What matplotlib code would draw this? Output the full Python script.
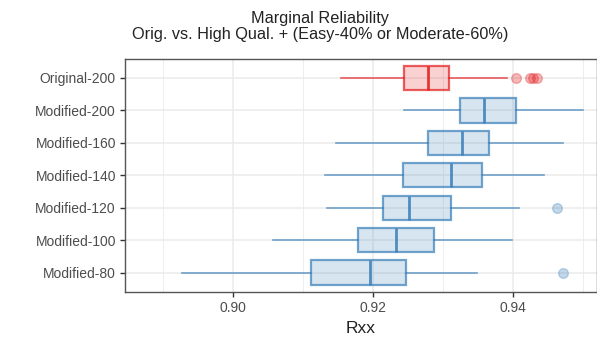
import matplotlib
matplotlib.use("Agg")
import matplotlib.pyplot as plt

plt.rcParams['font.family'] = ['Liberation Sans', 'DejaVu Sans']

labels = ['Modified-80', 'Modified-100', 'Modified-120', 'Modified-140',
          'Modified-160', 'Modified-200', 'Original-200']
whislo = [0.8927, 0.9058, 0.9135, 0.9131, 0.9147, 0.9245, 0.9155]
q1 = [0.9111, 0.9179, 0.9214, 0.9243, 0.9278, 0.9324, 0.9245]
med = [0.9196, 0.9233, 0.9251, 0.9311, 0.9327, 0.9358, 0.9278]
q3 = [0.9247, 0.9287, 0.9312, 0.9356, 0.9366, 0.9405, 0.9308]
whishi = [0.9348, 0.9399, 0.9409, 0.9445, 0.9472, 0.9500, 0.9391]
fliers = [[0.9471], [], [0.9463], [], [], [], [0.9405, 0.9425, 0.9429, 0.9435]]
groups = ['mod'] * 6 + ['orig']

colors = {'mod': '#377EB8', 'orig': '#E41A1C'}

fig = plt.figure(figsize=(5.97, 3.40), dpi=100)
ax = fig.add_axes([125 / 597, 1 - 292 / 340, 1 - 125 / 597, (292 - 58.5) / 340])

for i in range(len(labels)):
    c = colors[groups[i]]
    st = [dict(whislo=whislo[i], q1=q1[i], med=med[i], q3=q3[i],
               whishi=whishi[i], fliers=fliers[i])]
    ax.bxp(st, positions=[i + 1], widths=0.75, vert=False, patch_artist=True,
           showcaps=False,
           boxprops=dict(facecolor=c, alpha=0.2, edgecolor='none'),
           medianprops=dict(color=c, lw=2, alpha=0.85),
           whiskerprops=dict(color=c, lw=1.2, alpha=0.7),
           flierprops=dict(marker='o', markersize=7, markerfacecolor=c,
                           markeredgecolor=c, alpha=0.3))
    # translucent edge on top
    ax.bxp(st, positions=[i + 1], widths=0.75, vert=False, patch_artist=True,
           showcaps=False, showfliers=False,
           boxprops=dict(facecolor='none', edgecolor=c, lw=1.6, alpha=0.7),
           medianprops=dict(color='none'),
           whiskerprops=dict(color='none'))

ax.set_xlim(0.8846, 0.9520)
ax.set_ylim(0.4, 7.6)
ax.set_yticks(range(1, 8))
ax.set_yticklabels(labels)
ax.set_xticks([0.90, 0.92, 0.94])
ax.set_xticklabels(['0.90', '0.92', '0.94'])
ax.set_xticks([0.89, 0.91, 0.93, 0.95], minor=True)
ax.tick_params(axis='both', which='major', length=3.5, width=1, color='#333333',
               labelsize=10, labelcolor='#4d4d4d', pad=3)
ax.tick_params(axis='x', which='minor', length=0)
ax.grid(True, which='major', color='#ebebeb', lw=1.1)
ax.grid(True, which='minor', axis='x', color='#ebebeb', lw=0.6)
ax.set_axisbelow(True)
for s in ax.spines.values():
    s.set_color('#555555')
    s.set_linewidth(1)

ax.set_xlabel('Rxx', fontsize=12.5, color='#222222', labelpad=4)
fig.text(320 / 597, 1 - 18 / 340, 'Marginal Reliability', ha='center', va='center',
         fontsize=11.7, color='#222222')
fig.text(320 / 597, 1 - 35 / 340, 'Orig. vs. High Qual. + (Easy-40% or Moderate-60%)',
         ha='center', va='center', fontsize=11.7, color='#222222')

fig.savefig('out.png', dpi=100)
